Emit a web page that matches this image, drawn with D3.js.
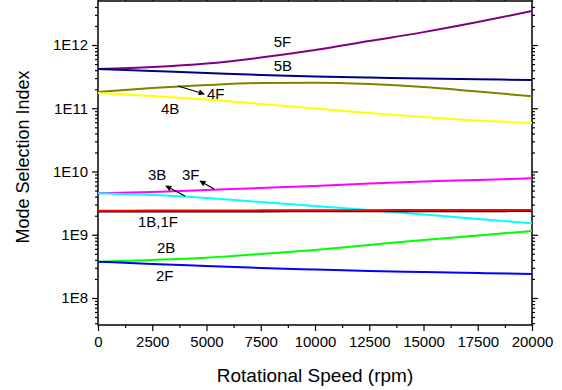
<!DOCTYPE html>
<html lang="en">
<head>
    <meta charset="UTF-8">
    <title>Mode Selection Index</title>
    <script src="https://d3js.org/d3.v7.min.js"></script>
    <style>
        body { margin: 0; background: #fff; }
        svg text { font-family: Arial, "Liberation Sans", sans-serif; fill: #000; }
    </style>
</head>
<body>
    <div id="chart"></div>
    <script>
        // Data
        const speeds = [0, 2500, 5000, 7500, 10000, 12500, 15000, 17500, 20000];
        const xTicks = [0, 2500, 5000, 7500, 10000, 12500, 15000, 17500, 20000];
        const yTicks = [1e8, 1e9, 1e10, 1e11, 1e12];
        const yTickLabels = ["1E8", "1E9", "1E10", "1E11", "1E12"];

        const mode5F = [4.18e11, 4.49e11, 5.10e11, 6.34e11, 8.34e11, 1.157e12, 1.60e12, 2.31e12, 3.45e12];
        const mode5B = [4.18e11, 3.88e11, 3.61e11, 3.36e11, 3.18e11, 3.06e11, 2.95e11, 2.87e11, 2.80e11];
        const mode4F = [1.81e11, 2.09e11, 2.33e11, 2.51e11, 2.54e11, 2.42e11, 2.17e11, 1.84e11, 1.55e11];
        const mode4B = [1.74e11, 1.56e11, 1.38e11, 1.17e11, 9.9e10, 8.41e10, 7.28e10, 6.40e10, 5.85e10];
        const mode3F = [4.52e9, 4.74e9, 5.10e9, 5.49e9, 5.90e9, 6.46e9, 6.95e9, 7.34e9, 7.81e9];
        const mode3B = [4.52e9, 4.25e9, 3.81e9, 3.29e9, 2.85e9, 2.46e9, 2.09e9, 1.77e9, 1.52e9];
        const mode1B = [2.33e9, 2.33e9, 2.34e9, 2.34e9, 2.35e9, 2.35e9, 2.36e9, 2.36e9, 2.37e9];
        const mode1F = [2.40e9, 2.41e9, 2.42e9, 2.43e9, 2.44e9, 2.45e9, 2.46e9, 2.46e9, 2.47e9];
        const mode2B = [3.75e8, 3.99e8, 4.34e8, 4.96e8, 5.74e8, 6.89e8, 8.26e8, 9.73e8, 1.15e9];
        const mode2F = [3.75e8, 3.45e8, 3.21e8, 2.98e8, 2.82e8, 2.67e8, 2.58e8, 2.48e8, 2.40e8];

        const series = [
            { name: "5F", values: mode5F, color: "#800080" },
            { name: "5B", values: mode5B, color: "#000080" },
            { name: "4F", values: mode4F, color: "#808000" },
            { name: "4B", values: mode4B, color: "#ffff00" },
            { name: "3F", values: mode3F, color: "#ff00ff" },
            { name: "3B", values: mode3B, color: "#00ffff" },
            { name: "1B", values: mode1B, color: "#000000" },
            { name: "1F", values: mode1F, color: "#ff0000" },
            { name: "2B", values: mode2B, color: "#00ff00" },
            { name: "2F", values: mode2F, color: "#0000ff" }
        ];

        // label text, anchor speed and value (left edge / baseline)
        const labels = [
            { text: "5F", x: 8100, y: 9.3e11 },
            { text: "5B", x: 8100, y: 3.88e11 },
            { text: "4F", x: 5020, y: 1.40e11 },
            { text: "4B", x: 2900, y: 8.1e10 },
            { text: "3B", x: 2300, y: 7.34e9 },
            { text: "3F", x: 3870, y: 7.34e9 },
            { text: "1B,1F", x: 1840, y: 1.33e9 },
            { text: "2B", x: 2720, y: 5.14e8 },
            { text: "2F", x: 2670, y: 1.87e8 }
        ];
        const arrows = [
            { x1: 3690, y1: 2.25e11, x2: 4890, y2: 1.68e11 },
            { x1: 4010, y1: 4.10e9, x2: 3130, y2: 5.9e9 },
            { x1: 5350, y1: 5.28e9, x2: 4700, y2: 7.08e9 }
        ];

        const width = 562;
        const height = 390;
        const margin = { top: 1, right: 30, bottom: 65, left: 98 };

        const svg = d3.select("#chart")
            .append("svg")
            .attr("width", width)
            .attr("height", height);

        const x = d3.scaleLinear()
            .domain([0, 20000])
            .range([margin.left, width - margin.right]);

        const y = d3.scaleLog()
            .domain([3.74e7, 4.97e12])
            .range([height - margin.bottom, margin.top]);

        // minor ticks
        const xMinor = d3.range(1250, 20000, 2500);
        const yMinor = [];
        for (let e = 7; e <= 12; e++) {
            for (let m = 2; m <= 9; m++) {
                const v = m * Math.pow(10, e);
                if (v >= y.domain()[0] && v <= y.domain()[1]) yMinor.push(v);
            }
        }

        // axes
        svg.append("g")
            .attr("class", "xaxis")
            .attr("transform", `translate(0,${height - margin.bottom})`)
            .call(d3.axisBottom(x).tickValues(xTicks).tickFormat(d3.format("d")).tickSize(6).tickPadding(5));
        svg.append("g")
            .attr("transform", `translate(0,${height - margin.bottom})`)
            .call(d3.axisBottom(x).tickValues(xMinor).tickFormat("").tickSize(3));

        svg.append("g")
            .attr("transform", `translate(0,${margin.top})`)
            .call(d3.axisTop(x).tickValues(xTicks.concat(xMinor)).tickFormat("").tickSize(3));

        svg.append("g")
            .attr("class", "yaxis")
            .attr("transform", `translate(${margin.left},0)`)
            .call(d3.axisLeft(y).tickValues(yTicks).tickFormat((d, i) => yTickLabels[i]).tickSize(6).tickPadding(4));
        svg.append("g")
            .attr("transform", `translate(${margin.left},0)`)
            .call(d3.axisLeft(y).tickValues(yMinor).tickFormat("").tickSize(3));

        svg.append("g")
            .attr("transform", `translate(${width - margin.right},0)`)
            .call(d3.axisRight(y).tickValues(yTicks).tickFormat("").tickSize(6));
        svg.append("g")
            .attr("transform", `translate(${width - margin.right},0)`)
            .call(d3.axisRight(y).tickValues(yMinor).tickFormat("").tickSize(3));

        svg.selectAll(".domain").remove();
        svg.selectAll(".tick line").attr("stroke", "#000").attr("stroke-width", 1.2);
        svg.selectAll(".xaxis .tick text").style("font-size", "15px");
        svg.selectAll(".yaxis .tick text").style("font-size", "15px");

        // frame
        svg.append("rect")
            .attr("x", margin.left)
            .attr("y", margin.top)
            .attr("width", width - margin.left - margin.right)
            .attr("height", height - margin.top - margin.bottom)
            .attr("fill", "none")
            .attr("stroke", "#000")
            .attr("stroke-width", 1.5);

        // lines
        const line = d3.line()
            .x((d, i) => x(speeds[i]))
            .y(d => y(d))
            .curve(d3.curveMonotoneX);

        svg.selectAll("path.series")
            .data(series)
            .enter()
            .append("path")
            .attr("class", "series")
            .attr("d", d => line(d.values))
            .attr("fill", "none")
            .attr("stroke", d => d.color)
            .attr("stroke-width", 2);

        // arrow marker
        svg.append("defs").append("marker")
            .attr("id", "arrow")
            .attr("viewBox", "0 0 10 10")
            .attr("refX", 9)
            .attr("refY", 5)
            .attr("markerWidth", 9)
            .attr("markerHeight", 6)
            .attr("markerUnits", "userSpaceOnUse")
            .attr("orient", "auto")
            .append("path")
            .attr("d", "M0,0 L10,5 L0,10 z")
            .attr("fill", "#000");

        svg.selectAll("line.arrow")
            .data(arrows)
            .enter()
            .append("line")
            .attr("class", "arrow")
            .attr("x1", d => x(d.x1))
            .attr("y1", d => y(d.y1))
            .attr("x2", d => x(d.x2))
            .attr("y2", d => y(d.y2))
            .attr("stroke", "#000")
            .attr("stroke-width", 1.2)
            .attr("marker-end", "url(#arrow)");

        svg.selectAll("text.label")
            .data(labels)
            .enter()
            .append("text")
            .attr("class", "label")
            .attr("x", d => x(d.x))
            .attr("y", d => y(d.y))
            .style("font-size", "15px")
            .text(d => d.text);

        // axis titles
        svg.append("text")
            .attr("x", (margin.left + width - margin.right) / 2)
            .attr("y", 382)
            .attr("text-anchor", "middle")
            .style("font-size", "19px")
            .text("Rotational Speed (rpm)");

        svg.append("text")
            .attr("transform", `translate(29,157) rotate(-90)`)
            .attr("text-anchor", "middle")
            .style("font-size", "18px")
            .text("Mode Selection Index");
    </script>
</body>
</html>
